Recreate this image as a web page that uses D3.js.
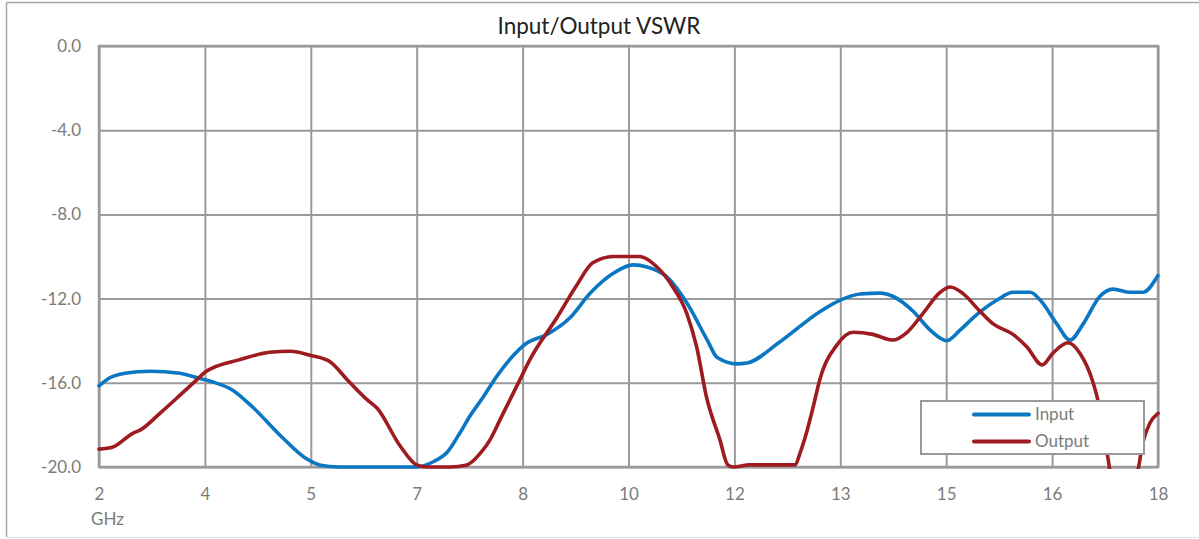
<!DOCTYPE html>
<html>
<head>
<meta charset="utf-8">
<script src="https://cdn.jsdelivr.net/npm/d3@7"></script>
<style>
  html, body { margin: 0; padding: 0; background: #fff; }
  svg { display: block; font-family: Lato, "Open Sans", sans-serif; }
</style>
</head>
<body>
<svg id="chart" width="1199" height="539"></svg>
<script>
// ---------- data ----------
const chartTitle = "Input/Output VSWR";
const xAxisTitle = "GHz";
const seriesNames = ["Input", "Output"];

const xTickValues = [2, 3.6, 5.2, 6.8, 8.4, 10, 11.6, 13.2, 14.8, 16.4, 18];
const xTickLabels = ["2", "4", "5", "7", "8", "10", "12", "13", "15", "16", "18"];
const yTickValues = [0, -4, -8, -12, -16, -20];
const yTickLabels = ["0.0", "-4.0", "-8.0", "-12.0", "-16.0", "-20.0"];

const inputFreq = [2.00, 2.17, 2.39, 2.77, 3.22, 3.53, 3.71, 4.02, 4.32, 4.77, 5.13, 5.33, 5.63, 6.09,
  6.80, 7.05, 7.26, 7.45, 7.60, 7.80, 8.03, 8.47, 8.77, 9.12, 9.42, 9.77, 10.07, 10.28, 10.58,
  10.88, 11.19, 11.34, 11.64, 11.79, 12.29, 12.89, 13.20, 13.50, 13.80, 14.00, 14.30, 14.56,
  14.81, 15.01, 15.21, 15.57, 15.81, 16.07, 16.22, 16.47, 16.67, 16.87, 17.12, 17.32, 17.58,
  17.77, 18.00];
const inputVSWR = [-16.15, -15.75, -15.55, -15.45, -15.55, -15.8, -15.95, -16.35, -17.15, -18.6,
  -19.6, -19.9, -20.0, -20.0, -20.0, -19.75, -19.3, -18.4, -17.6, -16.7, -15.6, -14.1, -13.7,
  -12.9, -11.75, -10.8, -10.4, -10.5, -10.97, -12.2, -13.97, -14.8, -15.1, -15.06, -14.05,
  -12.62, -12.07, -11.78, -11.74, -11.9, -12.6, -13.5, -14.0, -13.5, -12.9, -12.07, -11.7,
  -11.7, -12.07, -13.2, -13.97, -13.2, -11.9, -11.55, -11.7, -11.7, -10.9];

const outputFreq = [2.00, 2.21, 2.51, 2.62, 2.92, 3.22, 3.48, 3.60, 4.13, 4.58, 4.89, 5.20, 5.49,
  5.75, 6.05, 6.20, 6.55, 6.80, 6.96, 7.30, 7.56, 7.76, 7.91, 8.06, 8.21, 8.36, 8.51, 8.92, 9.22,
  9.46, 9.77, 10.17, 10.43, 10.67, 10.88, 11.03, 11.18, 11.38, 11.50, 11.58, 11.83, 12.33, 12.52,
  12.59, 12.70, 12.79, 12.89, 13.15, 13.39, 13.69, 13.99, 14.21, 14.45, 14.71, 14.86, 15.05,
  15.31, 15.51, 15.81, 16.02, 16.25, 16.41, 16.64, 16.82, 17.02, 17.09, 17.24, 17.30, 17.50,
  17.68, 17.77, 17.88, 18.00];
const outputVSWR = [-19.15, -19.05, -18.4, -18.25, -17.45, -16.6, -15.85, -15.5, -14.9, -14.55,
  -14.5, -14.7, -15.0, -15.85, -16.8, -17.2, -19.0, -19.9, -20.0, -20.0, -19.9, -19.35, -18.7,
  -17.75, -16.8, -15.85, -14.9, -12.9, -11.35, -10.3, -10.0, -10.0, -10.5, -11.45, -12.7, -14.3,
  -16.7, -18.7, -19.9, -20.0, -19.9, -19.9, -19.9, -19.35, -18.25, -17.15, -15.85, -14.2, -13.6,
  -13.7, -13.97, -13.6, -12.7, -11.7, -11.45, -11.75, -12.6, -13.2, -13.7, -14.3, -15.15, -14.6,
  -14.1, -14.6, -16.0, -16.8, -19.5, -20.5, -20.6, -20.3, -18.85, -17.9, -17.45];

const seriesColors = ["#0B76C1", "#9E1B1F"];

// ---------- layout ----------
const W = 1199, H = 539;
const plot = { left: 99, top: 46, right: 1158, bottom: 467 };
const svg = d3.select("#chart");

// chart frame
svg.append("line").attr("x1", 6.5).attr("x2", 6.5).attr("y1", 2.5).attr("y2", 537)
  .attr("stroke", "#a6a6a6").attr("stroke-width", 1.5);
svg.append("line").attr("x1", 6.5).attr("x2", W).attr("y1", 2.5).attr("y2", 2.5)
  .attr("stroke", "#a6a6a6").attr("stroke-width", 1.5);
svg.append("line").attr("x1", 6.5).attr("x2", W).attr("y1", 537.5).attr("y2", 537.5)
  .attr("stroke", "#e4e4e4").attr("stroke-width", 1);

const x = d3.scaleLinear().domain([2, 18]).range([plot.left, plot.right]);
const y = d3.scaleLinear().domain([-20, 0]).range([plot.bottom, plot.top]);

const gridColor = "#9a9a9c";
const textColor = "#7b7b7b";
const fontSize = 17;

// gridlines
const gx = svg.append("g").attr("transform", `translate(0,${plot.bottom})`)
  .call(d3.axisBottom(x).tickValues(xTickValues).tickSize(-(plot.bottom - plot.top)).tickFormat(""));
gx.select(".domain").remove();
gx.selectAll("line").attr("stroke", gridColor).attr("stroke-width", 2);

const gy = svg.append("g").attr("transform", `translate(${plot.left},0)`)
  .call(d3.axisLeft(y).tickValues(yTickValues).tickSize(-(plot.right - plot.left)).tickFormat(""));
gy.select(".domain").remove();
gy.selectAll("line").attr("stroke", gridColor).attr("stroke-width", 2);

// plot border
svg.append("rect").attr("x", plot.left).attr("y", plot.top)
  .attr("width", plot.right - plot.left).attr("height", plot.bottom - plot.top)
  .attr("fill", "none").attr("stroke", gridColor).attr("stroke-width", 2.5);

// tick labels
const xl = svg.append("g").attr("transform", `translate(0,${plot.bottom + 21})`)
  .call(d3.axisBottom(x).tickValues(xTickValues).tickSize(0).tickPadding(0)
    .tickFormat((d, i) => xTickLabels[i]));
xl.select(".domain").remove();
xl.selectAll("text").attr("fill", textColor).attr("font-size", fontSize)
  .attr("font-family", "Lato, sans-serif").attr("dy", "0.7em");

const yl = svg.append("g").attr("transform", `translate(${plot.left - 18},0)`)
  .call(d3.axisLeft(y).tickValues(yTickValues).tickSize(0).tickPadding(0)
    .tickFormat((d, i) => yTickLabels[i]));
yl.select(".domain").remove();
yl.selectAll("text").attr("fill", textColor).attr("font-size", fontSize)
  .attr("font-family", "Lato, sans-serif");

// axis title
svg.append("text").attr("x", 91).attr("y", 525).text(xAxisTitle)
  .attr("fill", textColor).attr("font-size", fontSize);

// chart title
svg.append("text").attr("x", 599).attr("y", 34).attr("text-anchor", "middle")
  .text(chartTitle).attr("fill", "#222").attr("font-size", 22.5);

// clip
svg.append("clipPath").attr("id", "clip").append("rect")
  .attr("x", plot.left - 3).attr("y", plot.top - 5)
  .attr("width", plot.right - plot.left + 6).attr("height", plot.bottom - plot.top + 7);

const line = d3.line().x(d => x(d[0])).y(d => y(d[1])).curve(d3.curveMonotoneX);
const seriesData = [
  d3.zip(inputFreq, inputVSWR),
  d3.zip(outputFreq, outputVSWR)
];

svg.append("g").attr("clip-path", "url(#clip)")
  .selectAll("path").data(seriesData).join("path")
  .attr("d", line).attr("fill", "none")
  .attr("stroke", (d, i) => seriesColors[i])
  .attr("stroke-width", 3.6).attr("stroke-linejoin", "round").attr("stroke-linecap", "round");

// legend
const lg = { x: 921, y: 401, w: 223, h: 53 };
svg.append("rect").attr("x", lg.x).attr("y", lg.y).attr("width", lg.w).attr("height", lg.h)
  .attr("fill", "#fff").attr("stroke", gridColor).attr("stroke-width", 2);
seriesNames.forEach((name, i) => {
  const ly = lg.y + 13.5 + i * 27;
  svg.append("line").attr("x1", 974).attr("x2", 1029).attr("y1", ly).attr("y2", ly)
    .attr("stroke", seriesColors[i]).attr("stroke-width", 4).attr("stroke-linecap", "round");
  svg.append("text").attr("x", 1035).attr("y", ly).attr("dy", "0.35em").text(name)
    .attr("fill", textColor).attr("font-size", fontSize);
});
</script>
</body>
</html>
